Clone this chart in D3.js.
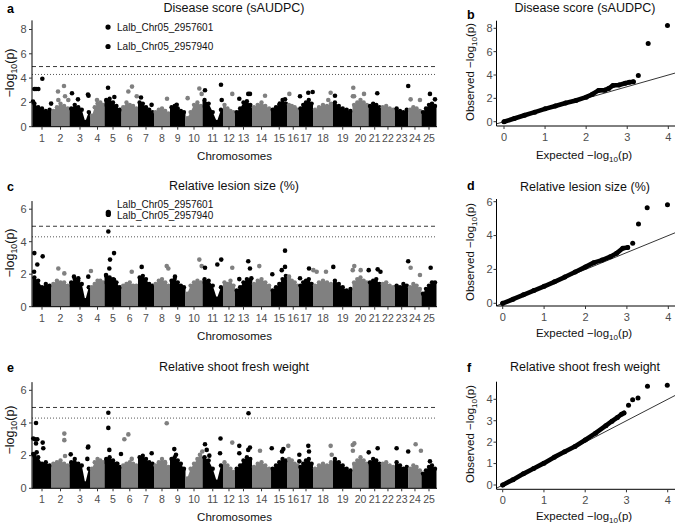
<!DOCTYPE html>
<html><head><meta charset="utf-8">
<script src="https://cdn.jsdelivr.net/npm/d3@7"></script>
<style>body{margin:0;background:#fff}svg{display:block}text{font-family:"Liberation Sans",Arial,sans-serif}</style>
</head><body><svg id="c" width="675" height="525"></svg>
<script>
// ---------- DATA ----------
const chromLabels = ["1","2","3","4","5","6","7","8","9","10","11","12","13","14","15","16","17","18","19","20","21","22","23","24","25"];
const chromLengths = [23.8,22.5,26.3,17.5,21.3,20.6,20.0,20.0,19.4,21.3,25.6,15.0,21.3,23.8,20.6,14.4,17.5,25.0,24.4,20.0,15.6,17.5,16.9,16.3,18.8];

// dense-band envelope (-log10 p) sampled along each chromosome
const envA = [[1.9,1.6,1.5,1.3,1.4],[1.3,1.6,1.9,1.7,1.5],[1.5,1.8,1.6,1.4,0.4,1.2],[0.9,1.6,1.9,2.0,1.8],[2.2,2.3,2.0,1.7,1.4],
  [1.6,2.0,1.8,1.7,1.5],[2.0,1.9,1.6,1.4,1.2],[1.2,1.4,1.5,1.3,1.1],[1.6,1.7,1.5,1.3,1.2],[0.7,1.2,1.8,2.0,1.7],
  [2.2,1.9,1.2,0.4,1.4],[1.8,1.5,1.3,1.2],[1.2,1.5,2.0,2.1,1.8],[1.6,1.8,2.0,1.7,1.5],[1.4,1.6,1.8,2.2,1.9],
  [1.8,1.7,1.6,1.4],[1.5,1.8,2.0,2.2,1.9],[1.4,1.6,1.8,1.7,1.9],[2.0,1.7,1.5,1.4,1.3],[1.8,2.0,2.2,2.0,1.8],
  [1.7,1.9,1.8,1.6],[1.6,1.7,1.5,1.4],[1.5,1.3,1.2,1.4],[1.4,1.6,1.5,1.3],[1.2,1.5,1.8,1.9,1.7]];
const envC = [[1.8,1.6,1.2,1.4,1.3],[1.4,1.6,1.5,1.5,1.3],[1.5,1.7,1.6,1.4,0.4,1.2],[1.2,1.4,1.6,1.6,1.5],[1.9,1.8,1.7,1.5,1.2],
  [1.3,1.4,1.5,1.3,1.3],[1.8,1.9,1.7,1.4,1.3],[1.4,1.6,1.7,1.5,1.3],[1.6,1.7,1.5,1.3,1.2],[0.8,1.3,1.5,1.6,1.5],
  [1.7,1.6,1.3,0.5,1.2],[1.5,1.4,1.6,1.3],[1.0,1.2,1.5,1.7,1.6],[1.4,1.6,1.7,1.5,1.3],[1.0,1.2,1.4,1.7,1.9],
  [1.7,1.6,1.5,1.3],[1.3,1.5,1.6,1.7,1.4],[1.3,1.5,1.6,1.5,1.4],[1.6,1.4,1.2,1.0,1.1],[1.5,1.7,1.8,1.6,1.5],
  [1.5,1.6,1.7,1.4],[1.4,1.5,1.3,1.2],[1.3,1.2,1.4,1.3],[1.2,1.4,1.3,1.1],[0.8,1.1,1.3,1.5,1.5]];
const envE = [[2.0,1.9,1.5,1.6,1.4],[1.5,1.6,1.7,1.5,1.4],[1.6,1.8,1.5,1.4,0.3,1.2],[1.2,1.6,1.8,1.7,1.6],[1.8,1.9,1.7,1.5,1.3],
  [1.4,1.5,1.6,1.5,1.4],[1.9,2.0,1.8,1.6,1.5],[1.4,1.6,1.8,1.5,1.3],[1.8,1.9,1.7,1.5,1.2],[0.6,1.2,1.5,1.8,1.9],
  [1.9,1.7,1.2,0.4,1.4],[1.6,1.4,1.2,1.0],[1.2,1.4,1.7,1.9,1.8],[1.3,1.5,1.6,1.4,1.2],[1.2,1.4,1.6,1.8,1.7],
  [1.8,1.7,1.5,1.4],[1.3,1.5,1.7,1.8,1.5],[1.2,1.4,1.5,1.4,1.6],[1.8,1.6,1.4,1.2,1.1],[1.5,1.7,1.9,1.7,1.5],
  [1.6,1.8,1.7,1.5],[1.5,1.6,1.4,1.3],[1.6,1.4,1.2,1.3],[1.2,1.4,1.3,1.1],[0.9,1.1,1.3,1.4,1.2]];

// individual SNPs standing above the band: [chromosome, position (Mb), -log10 p]
const snpsA = [[1,0.6,2.07],[1,2.3,3.1],[1,4.4,3.1],[1,7.3,3.1],[1,12.3,3.95],[1,23.3,1.9],
  [2,8.1,2.9],[2,8.5,2.2],[2,15.6,3.35],[2,16.9,2.5],[2,21,2.2],[3,3.1,2.75],[3,10.6,2.25],[3,23.1,2.65],[3,23.8,2.55],
  [4,8.1,2.2],[5,4.4,3.2],[5,12.3,2.45],[6,8.5,2.9],[6,13.1,3.3],[6,19,2.5],[7,3.75,2.4],[7,17,1.8],[8,16.3,2.3],
  [9,8.4,1.8],[10,2.7,2.35],[10,17.3,3.15],[10,20.2,2.7],[11,3.1,3.0],[11,23.1,3.45],[11,24,2.2],[12,11.6,2.7],
  [13,5.4,2.3],[13,16.6,2.7],[13,18.75,2.7],[14,16.3,2.55],[15,11,1.9],[15,17.5,2.25],[16,2.3,2.7],[17,1.25,2.5],
  [17,11.6,2.8],[17,17.1,2.85],[18,19.1,2.2],[18,22.1,2.8],[19,2.5,2.55],[20,0.5,2.5],[20,1.0,3.2],[20,2.0,2.5],
  [20,14.4,2.7],[21,11,2.75],[23,16.6,3.35],[24,2.75,2.25],[24,14.4,2.2],[25,10.6,2.7],[25,16.9,2.25]];
const snpsC = [[1,2.0,2.15],[1,2.3,3.3],[1,6,2.6],[1,12.75,3.1],[2,8.5,2.35],[2,16,2.05],[3,5.6,1.85],[3,11,1.75],[3,23.5,1.85],
  [4,0.5,2.2],[5,1.9,1.95],[5,4.75,4.63],[5,6,2.35],[5,6.9,2.9],[5,11.9,3.3],[5,11.9,1.65],[6,12.75,2.15],[7,4.6,2.45],
  [8,15.9,2.5],[8,17.9,2.35],[9,6.25,1.85],[10,17.3,2.9],[10,20.2,2.5],[11,3.1,2.4],[11,18.5,2.6],[11,23.4,2.9],
  [12,11.6,2.4],[13,5.4,1.7],[13,16.6,2.8],[13,18.75,2.35],[13,20.5,1.75],[14,9.1,2.5],[15,1.6,2.0],[15,13.4,2.25],
  [15,17.5,3.45],[15,17.5,2.45],[16,1.9,1.85],[17,1.25,1.75],[17,12.5,2.35],[18,0.5,2.25],[18,4.6,2.15],[18,16.25,2.15],
  [19,0.4,2.45],[20,0.3,2.25],[20,2.25,2.5],[20,10.25,2.25],[21,0.3,2.25],[21,11.5,2.3],[21,15,2.15],[23,16.6,2.8],
  [24,2.75,2.4],[24,14.4,1.95],[25,11.5,2.4]];
const snpsE = [[1,1,3.05],[1,1,2.1],[1,3.1,3.0],[1,4.4,4.0],[1,4.4,2.75],[1,5.2,2.2],[1,6,3.0],[1,12.75,2.8],[1,13.5,2.45],
  [2,16,3.35],[2,16,2.95],[2,16.9,1.98],[3,1.5,2.08],[3,22.3,1.8],[3,23,2.5],[3,23.5,2.55],[5,4.75,4.63],[5,4.75,3.7],
  [5,6,2.35],[5,16,1.5],[5,20.6,2.1],[6,3.5,3.0],[6,8.5,3.3],[6,12.75,1.8],[7,17.1,2.15],[8,13.75,1.6],[8,15.9,3.98],
  [9,5.4,2.4],[9,7.5,2.05],[10,18.1,2.05],[10,21,2.25],[11,3.1,2.7],[11,5.25,2.35],[11,8.5,2.0],[11,21.9,2.15],[11,22.5,3.05],
  [12,11.6,2.8],[13,5.4,2.6],[13,5.4,2.15],[13,16.6,2.35],[13,16.9,4.6],[13,18.75,2.5],[14,10,2.3],[15,0.9,2.45],
  [15,13.75,2.25],[15,15.4,2.4],[16,1,2.6],[17,0.4,2.05],[17,0.4,1.65],[17,11.6,2.6],[17,12.5,2.25],[18,22.1,2.6],
  [18,23.4,2.05],[20,0.3,2.65],[20,0.5,2.3],[20,2.25,2.75],[21,0.3,2.2],[21,11.5,2.45],[23,2.1,2.45],[23,16.6,2.25],
  [24,9,2.7],[24,15.6,2.3],[25,10.6,1.65]];

// lead SNPs
const hitNames = ["Lalb_Chr05_2957601","Lalb_Chr05_2957940"];
const hitsA = [[5,4.4,8.2],[5,4.4,6.6]];
const hitsC = [[5,4.75,5.8],[5,4.75,5.68]];
const hitLabelValsA = [8.2,6.6];
const hitLabelValsC = [6.32,5.64];

const sigLine = 4.95, suggestLine = 4.3;
const yTicksA = [0,2,4,6,8], yTicksC = [0,2,4,6], yTicksE = [0,2,4,6];

// QQ plots: [expected, observed]
const qqBandB = [[0,0],[0.25,0.27],[0.5,0.55],[0.75,0.82],[1,1.1],[1.25,1.35],[1.5,1.6],[1.75,1.82],[2,2.1],[2.15,2.35],[2.3,2.68],[2.45,2.7],[2.55,2.85],[2.65,3.1],[2.8,3.15],[2.95,3.3],[3.05,3.38],[3.15,3.42]];
const qqTopB = [[3.27,3.95],[3.51,6.7],[3.98,8.25]];
const qqBandD = [[0,0],[0.25,0.24],[0.5,0.5],[0.75,0.75],[1,1.0],[1.25,1.27],[1.5,1.55],[1.75,1.85],[2,2.15],[2.2,2.4],[2.4,2.55],[2.6,2.75],[2.75,2.95],[2.9,3.25],[3.02,3.3]];
const qqTopD = [[3.14,3.54],[3.28,4.69],[3.49,5.65],[3.98,5.82]];
const qqBandF = [[0,0],[0.25,0.25],[0.5,0.52],[0.75,0.77],[1,1.02],[1.25,1.3],[1.5,1.55],[1.75,1.8],[2,2.1],[2.25,2.42],[2.5,2.77],[2.65,2.98],[2.78,3.15],[2.88,3.3],[2.94,3.36]];
const qqTopF = [[3.05,3.72],[3.15,3.98],[3.28,4.06],[3.51,4.61],[3.99,4.66]];
const qqXTicks = [0,1,2,3,4];
const qqYTicksB = [0,2,4,6,8], qqYTicksD = [0,2,4,6], qqYTicksF = [0,1,2,3,4];

// ---------- DRAWING ----------
const svg = d3.select("#c");
const GRAY = "#808080", TICK = "#4d4d4d";
const starts = [0]; chromLengths.forEach((l,i)=>starts.push(starts[i]+l));
const totalLen = starts[starts.length-1];
const xM = d3.scaleLinear().domain([0,totalLen]).range([32.5,436.5]);
const colorOf = c => (c % 2 === 1 ? "#000" : GRAY);

function logLabel(sel, prefix, size){
  sel.append("tspan").text(prefix + "\u2212log");
  sel.append("tspan").attr("font-size", size*0.7).attr("dy", size*0.25).text("10");
  sel.append("tspan").attr("dy", -size*0.25).text("(p)");
}

function manhattan(cfg){
  const g = svg.append("g");
  const y = d3.scaleLinear().domain([0,1]).range([cfg.y0, cfg.y0 - cfg.unit]);
  const area = d3.area().x(d=>xM(d[0])).y0(y(0)).y1(d=>y(d[1]));
  cfg.env.forEach((env,i)=>{
    const s = starts[i], L = chromLengths[i], col = colorOf(i+1);
    const pts = env.map((v,j)=>[s + L*(j+0.5)/env.length, v]);
    const full = [[s, env[0]], ...pts, [s+L, env[env.length-1]]];
    g.append("path").datum(full).attr("d", area).attr("fill", col);
    g.selectAll(null).data(pts).join("circle")
      .attr("cx", d=>xM(d[0])).attr("cy", d=>y(d[1])).attr("r", 2.2).attr("fill", col);
  });
  g.selectAll(null).data(cfg.snps).join("circle")
    .attr("cx", d=>xM(starts[d[0]-1]+d[1])).attr("cy", d=>y(d[2])).attr("r", 2.3)
    .attr("fill", d=>colorOf(d[0]));
  // thresholds
  g.append("line").attr("x1",32).attr("x2",437).attr("y1",y(sigLine)).attr("y2",y(sigLine))
    .attr("stroke","#222").attr("stroke-width",0.9).attr("stroke-dasharray","4,3");
  g.append("line").attr("x1",32).attr("x2",437).attr("y1",y(suggestLine)).attr("y2",y(suggestLine))
    .attr("stroke","#444").attr("stroke-width",0.9).attr("stroke-dasharray","1,2");
  // hits
  if (cfg.hits){
    g.selectAll(null).data(cfg.hits).join("circle")
      .attr("cx", d=>xM(starts[d[0]-1]+d[1])).attr("cy", d=>y(d[2])).attr("r", 2.6).attr("fill","#000");
    g.selectAll(null).data(hitNames).join("text")
      .attr("x", xM(starts[4]+4.4)+9).attr("y", (d,i)=>y(cfg.labelVals[i])).attr("dy","0.35em")
      .attr("font-size",10).attr("fill","#111").text(d=>d);
  }
  // axes
  g.append("line").attr("x1",32).attr("x2",32).attr("y1",y(0)).attr("y2",y(cfg.yMax)).attr("stroke","#000").attr("stroke-width",1);
  g.append("line").attr("x1",32).attr("x2",437).attr("y1",y(0)).attr("y2",y(0)).attr("stroke","#000").attr("stroke-width",1);
  cfg.yTicks.forEach(t=>{
    g.append("line").attr("x1",29).attr("x2",32).attr("y1",y(t)).attr("y2",y(t)).attr("stroke","#333");
    g.append("text").attr("x",26.5).attr("y",y(t)).attr("dy","0.35em").attr("text-anchor","end")
      .attr("font-size",11).attr("fill",TICK).text(t);
  });
  chromLabels.forEach((lab,i)=>{
    const cx = xM(starts[i] + chromLengths[i]/2);
    g.append("line").attr("x1",cx).attr("x2",cx).attr("y1",y(0)).attr("y2",y(0)+3).attr("stroke","#333");
    g.append("text").attr("x",cx).attr("y",y(0)+15).attr("text-anchor","middle")
      .attr("font-size",10.5).attr("fill",TICK).text(lab);
  });
  g.append("text").attr("x",234.5).attr("y",y(0)+33).attr("text-anchor","middle")
    .attr("font-size",11.5).attr("fill","#111").text("Chromosomes");
  g.append("text").attr("x",234).attr("y",cfg.titleY).attr("text-anchor","middle")
    .attr("font-size",12.5).attr("fill","#111").text(cfg.title);
  g.append("text").attr("x",7).attr("y",cfg.titleY+0.5).attr("font-size",12.5).attr("font-weight","bold").text(cfg.letter);
  const yl = g.append("text").attr("transform",`translate(13.5,${cfg.yTitleC}) rotate(-90)`)
    .attr("text-anchor","middle").attr("font-size",12.5).attr("fill","#111");
  logLabel(yl, "", 12.5);
}

function qq(cfg){
  const g = svg.append("g");
  const x = d3.scaleLinear().domain([0,4]).range(cfg.xr);
  const y = d3.scaleLinear().domain(cfg.yd).range(cfg.yr);
  const X0 = 496.5, X1 = 675;
  const xMin = x.invert(X0), xMax = x.invert(X1);
  const yMin = y.invert(cfg.axisY), yMax = y.invert(cfg.topY);
  const a = Math.max(xMin,yMin), b = Math.min(xMax,yMax);
  g.append("line").attr("x1",x(a)).attr("y1",y(a)).attr("x2",x(b)).attr("y2",y(b)).attr("stroke","#000").attr("stroke-width",0.8);
  g.append("path").datum(cfg.band).attr("d", d3.line().x(d=>x(d[0])).y(d=>y(d[1])))
    .attr("fill","none").attr("stroke","#000").attr("stroke-width",4.6).attr("stroke-linecap","round").attr("stroke-linejoin","round");
  g.selectAll(null).data(cfg.band.concat(cfg.top)).join("circle")
    .attr("cx",d=>x(d[0])).attr("cy",d=>y(d[1])).attr("r",2.5).attr("fill","#000");
  g.append("line").attr("x1",X0).attr("x2",X1).attr("y1",cfg.axisY).attr("y2",cfg.axisY).attr("stroke","#000");
  g.append("line").attr("x1",X0).attr("x2",X0).attr("y1",cfg.axisY).attr("y2",cfg.topY).attr("stroke","#000");
  qqXTicks.forEach(t=>{
    g.append("line").attr("x1",x(t)).attr("x2",x(t)).attr("y1",cfg.axisY).attr("y2",cfg.axisY+3).attr("stroke","#333");
    g.append("text").attr("x",x(t)).attr("y",cfg.axisY+15).attr("text-anchor","middle").attr("font-size",11).attr("fill",TICK).text(t);
  });
  cfg.yTicks.forEach(t=>{
    g.append("line").attr("x1",X0-3).attr("x2",X0).attr("y1",y(t)).attr("y2",y(t)).attr("stroke","#333");
    g.append("text").attr("x",X0-4).attr("y",y(t)).attr("dy","0.35em").attr("text-anchor","end").attr("font-size",11).attr("fill",TICK).text(t);
  });
  const xl = g.append("text").attr("x",584).attr("y",cfg.axisY+cfg.xTitleOff).attr("text-anchor","middle").attr("font-size",11.5).attr("fill","#111");
  logLabel(xl, "Expected  ", 11.5);
  const yl = g.append("text").attr("transform",`translate(474,${cfg.yTitleC}) rotate(-90)`)
    .attr("text-anchor","middle").attr("font-size",11.5).attr("fill","#111");
  logLabel(yl, "Observed  ", 11.5);
  g.append("text").attr("x",585).attr("y",cfg.titleY).attr("text-anchor","middle").attr("font-size",12.5).attr("fill","#111").text(cfg.title);
  g.append("text").attr("x",467).attr("y",cfg.letterY).attr("font-size",12.5).attr("font-weight","bold").text(cfg.letter);
}

manhattan({env:envA, snps:snpsA, hits:hitsA, labelVals:hitLabelValsA, y0:126.7, unit:12.15, yMax:8.75, yTicks:yTicksA,
  title:"Disease score (sAUDPC)", titleY:12, letter:"a", yTitleC:73});
manhattan({env:envC, snps:snpsC, hits:hitsC, labelVals:hitLabelValsC, y0:306.7, unit:16.25, yMax:6.5, yTicks:yTicksC,
  title:"Relative lesion size (%)", titleY:190, letter:"c", yTitleC:253});
manhattan({env:envE, snps:snpsE, y0:488.3, unit:16.33, yMax:6.5, yTicks:yTicksE,
  title:"Relative shoot fresh weight", titleY:371, letter:"e", yTitleC:430});

qq({band:qqBandB, top:qqTopB, xr:[504,668.3], yd:[0,8], yr:[121.7,28.3], axisY:126, topY:20.7, yTicks:qqYTicksB,
  title:"Disease score (sAUDPC)", titleY:12, letter:"b", letterY:19, yTitleC:72, xTitleOff:33});
qq({band:qqBandD, top:qqTopD, xr:[502.7,668.3], yd:[0,6], yr:[303.3,201.7], axisY:306, topY:199, yTicks:qqYTicksD,
  title:"Relative lesion size (%)", titleY:191, letter:"d", letterY:190, yTitleC:252, xTitleOff:31});
qq({band:qqBandF, top:qqTopF, xr:[502.7,667.7], yd:[0,4], yr:[485,399.3], axisY:489.3, topY:381.7, yTicks:qqYTicksF,
  title:"Relative shoot fresh weight", titleY:371, letter:"f", letterY:372, yTitleC:434, xTitleOff:30.5});
</script></body></html>
